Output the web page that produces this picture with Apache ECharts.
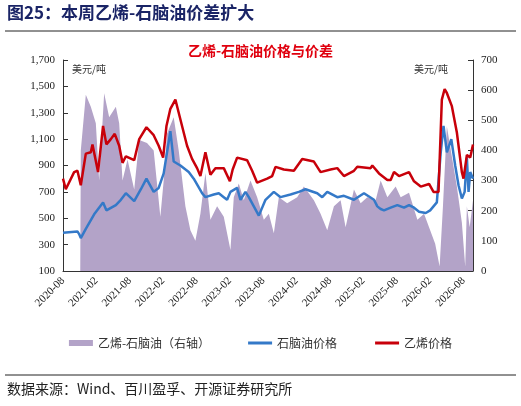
<!DOCTYPE html>
<html><head><meta charset="utf-8">
<script src="https://cdn.jsdelivr.net/npm/echarts@6/dist/echarts.min.js"></script>
<style>html,body{margin:0;padding:0;background:#fff}#c{width:521px;height:406px}</style>
</head><body><div id="c"></div>
<script>
// month offsets from 2020-08 and values
const ethT=[0,0.5,2.0,2.6,3.2,4.1,5.0,5.3,6.3,7.2,7.8,8.6,9.3,10.1,10.7,11.3,12.8,13.7,15.0,16.3,17.2,18.0,18.6,19.3,20.2,21.4,22.3,23.2,24.1,24.7,25.6,26.5,27.4,28.9,30.0,30.5,31.3,33.1,34.0,34.9,36.7,37.6,38.2,39.7,41.5,43.0,45.1,46.3,48.1,49.3,50.5,52.3,52.9,55.3,55.6,56.8,58.3,58.9,59.5,60.4,62.2,63.1,64.3,65.8,66.6,67.5,68.1,68.6,69.0,69.9,70.8,71.7,72.0,72.6,73.2,73.7];
const ethV=[800,720,850,860,750,990,1000,1060,850,1200,1060,1100,1140,1050,920,970,940,1100,1190,1130,1050,960,1200,1330,1400,1200,1050,950,880,820,1000,830,880,880,780,870,960,940,860,770,800,820,890,870,860,950,930,850,870,880,820,860,890,880,900,840,790,790,850,820,850,780,740,760,700,700,1400,1480,1450,1350,1150,850,800,980,960,1060];
const napT=[0,2.6,2.9,3.2,4.1,5.6,7.2,7.8,9.5,10.4,11.3,12.8,14.0,15.0,16.3,17.2,18.1,19.3,19.9,21.1,22.6,23.5,25.0,25.6,27.1,28.0,28.9,29.5,30.1,31.3,31.9,32.8,33.4,34.3,35.2,36.4,37.9,39.1,40.9,42.4,43.6,45.7,46.6,47.5,49.3,50.5,52.3,54.1,55.9,56.5,57.1,57.7,58.9,60.1,61.3,62.2,63.1,64.0,65.2,66.0,67.2,67.9,68.4,69.0,69.8,70.5,71.1,71.7,72.2,72.6,72.9,73.2,73.7];
const napV=[390,400,380,350,420,530,620,560,600,640,690,630,720,800,700,730,840,1160,930,900,850,800,690,660,680,690,660,640,700,730,640,700,660,590,520,640,700,660,680,700,720,690,660,700,660,670,640,690,640,590,570,560,580,600,580,600,580,550,540,560,620,1000,1200,1000,1100,900,750,650,700,960,700,850,800];
const sprT=[0,3.1,3.2,4.1,5.0,5.9,6.5,7.4,8.3,9.5,10.1,10.7,11.6,12.8,13.7,15.1,16.3,17.5,18.1,18.7,19.9,20.8,22.0,22.9,23.8,24.7,25.6,26.5,27.7,28.9,30.1,30.7,31.6,32.5,33.7,34.9,36.1,37.0,37.9,38.8,40.3,42.1,43.3,45.1,46.3,47.5,48.7,49.9,50.8,52.3,53.5,54.7,56.2,57.1,58.3,59.8,60.7,62.2,63.7,64.9,66.0,66.9,67.7,68.3,69.0,69.9,70.8,71.7,72.3,72.6,73.1,73.7];
const sprV=[0,0,400,585,545,490,300,590,510,545,490,300,370,270,435,425,400,180,300,455,510,400,215,135,100,190,325,170,215,180,70,245,290,235,300,245,170,190,125,245,225,245,280,235,190,135,215,235,145,270,225,245,235,300,245,280,245,260,170,190,135,90,15,215,480,380,280,160,15,215,145,235];
const leftTicks=[100,300,500,700,900,1100,1300,1500,1700];
const xTickLabels=['2020-08','2021-02','2021-08','2022-02','2022-08','2023-02','2023-08','2024-02','2024-08','2025-02','2025-08','2026-02','2026-08'];

const zip=(a,b)=>a.map((t,i)=>[t,b[i]]);
const serif='"Liberation Serif","Times New Roman",serif';
const cjk='"Noto Sans CJK SC",sans-serif';
const chart=echarts.init(document.getElementById('c'));
chart.setOption({
  animation:false,
  graphic:[
    {type:'text',left:7,top:4,style:{text:'图25：本周乙烯-石脑油价差扩大',font:'bold 17px "Noto Sans CJK SC"',fill:'#1a2466'}},
    {type:'line',shape:{x1:5,y1:31,x2:516,y2:31},style:{stroke:'#222',lineWidth:1}},
    {type:'text',left:'center',top:44,style:{text:'乙烯-石脑油价格与价差',font:'bold 14px "Noto Sans CJK SC"',fill:'#e0000e'}},
    {type:'text',left:72,top:64,style:{text:'美元/吨',font:'10px "Noto Sans CJK SC"',fill:'#333'}},
    {type:'text',left:414,top:64,style:{text:'美元/吨',font:'10px "Noto Sans CJK SC"',fill:'#333'}},
    {type:'line',shape:{x1:5,y1:375,x2:516,y2:375},style:{stroke:'#222',lineWidth:1}},
    {type:'text',left:7,top:382,style:{text:'数据来源：Wind、百川盈孚、开源证券研究所',font:'14px "Noto Sans CJK SC"',fill:'#222'}}
  ],
  legend:{bottom:52,left:'center',itemGap:38,itemWidth:24,itemHeight:6,
    textStyle:{fontFamily:cjk,fontSize:12,color:'#333'},
    data:[{name:'乙烯-石脑油（右轴）',icon:'rect'},
          {name:'石脑油价格',icon:'path://M0,0H24V3H0Z'},
          {name:'乙烯价格',icon:'path://M0,0H24V3H0Z'}]},
  grid:{left:63,right:48,top:60,bottom:135},
  xAxis:{type:'value',min:0,max:73.7,interval:6,
    axisLine:{lineStyle:{color:'#333'}},axisTick:{show:true,inside:true,lineStyle:{color:'#333'}},
    splitLine:{show:false},
    axisLabel:{rotate:45,fontFamily:serif,fontSize:11,color:'#222',showMaxLabel:false,
      formatter:v=>xTickLabels[Math.round(v/6)]||''}},
  yAxis:[
    {type:'value',min:100,max:1700,interval:200,splitLine:{show:false},
     axisLine:{show:true,lineStyle:{color:'#333'}},axisTick:{show:true,inside:true},
     axisLabel:{fontFamily:serif,fontSize:11,color:'#222',formatter:v=>leftTicks.includes(v)?v.toLocaleString('en-US'):''}},
    {type:'value',min:0,max:700,interval:100,splitLine:{show:false},
     axisLine:{show:true,lineStyle:{color:'#333'}},axisTick:{show:true,inside:true},
     axisLabel:{fontFamily:serif,fontSize:11,color:'#222'}}
  ],
  series:[
    {name:'乙烯-石脑油（右轴）',type:'line',yAxisIndex:1,data:zip(sprT,sprV),symbol:'none',
     lineStyle:{width:0,color:'#b3a3c8'},itemStyle:{color:'#b3a3c8'},areaStyle:{color:'#b3a3c8',opacity:1}},
    {name:'石脑油价格',type:'line',data:zip(napT,napV),symbol:'none',
     lineStyle:{width:2.5,color:'#3479c8'},itemStyle:{color:'#3479c8'}},
    {name:'乙烯价格',type:'line',data:zip(ethT,ethV),symbol:'none',
     lineStyle:{width:2.5,color:'#c8000a'},itemStyle:{color:'#c8000a'}}
  ]
});
</script></body></html>
